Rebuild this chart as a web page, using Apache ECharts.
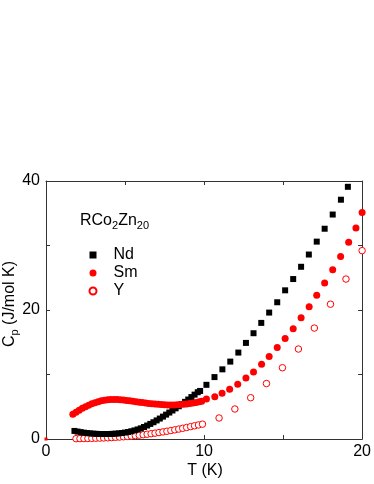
<!DOCTYPE html>
<html><head><meta charset="utf-8">
<script src="https://cdn.jsdelivr.net/npm/echarts@6/dist/echarts.min.js"></script>
<style>html,body{margin:0;padding:0;background:#fff}#c{width:374px;height:484px}</style>
</head><body><div id="c"></div>
<script>
// ---- data (T in K, Cp in J/mol K) ----
const ndT = [1.8,2.0,2.2,2.4,2.6,2.8,3.0,3.2,3.4,3.6,3.8,4.0,4.2,4.4,4.6,4.8,5.0,5.2,5.4,5.6,5.8,6.0,6.2,6.4,6.6,6.8,7.0,7.2,7.4,7.6,7.8,8.0,8.2,8.4,8.6,8.8,9.0,9.2,9.4,9.6,9.75,
  10.15,10.66,11.16,11.66,12.17,12.65,13.13,13.62,14.12,14.63,15.13,15.64,16.14,16.63,17.13,17.63,18.14,18.66,19.1];
const ndCp = [1.25,1.15,1.06,0.98,0.92,0.87,0.83,0.80,0.78,0.77,0.77,0.78,0.80,0.83,0.87,0.93,1.00,1.09,1.20,1.33,1.48,1.65,1.86,2.09,2.34,2.60,2.88,3.17,3.47,3.78,4.10,4.42,4.75,5.08,5.42,5.76,6.12,6.50,6.88,7.25,7.45,
  8.4,9.6,10.8,12.0,13.4,14.9,16.4,18.0,19.6,21.2,23.05,24.8,26.7,28.6,30.6,32.6,34.8,37.1,39.1];
const smT = [1.7,1.9,2.1,2.3,2.5,2.7,2.9,3.1,3.3,3.5,3.7,3.9,4.1,4.3,4.5,4.7,4.9,5.1,5.3,5.5,5.7,5.9,6.1,6.3,6.5,6.7,6.9,7.1,7.3,7.5,7.7,7.9,8.1,8.3,8.5,8.7,8.9,9.1,9.3,9.5,9.7,9.85,
  10.15,10.68,11.14,11.62,12.13,12.65,13.13,13.64,14.12,14.63,15.13,15.64,16.14,16.65,17.13,17.63,18.14,18.64,19.15,19.61,20.0];
const smCp = [3.85,4.15,4.45,4.75,5.0,5.25,5.45,5.62,5.78,5.92,6.02,6.08,6.12,6.13,6.12,6.09,6.04,5.98,5.92,5.85,5.78,5.71,5.64,5.58,5.52,5.46,5.41,5.37,5.33,5.30,5.28,5.27,5.28,5.30,5.33,5.38,5.44,5.51,5.59,5.67,5.76,5.85,
  6.2,6.56,7.08,7.7,8.5,9.46,10.4,11.6,12.8,14.2,15.6,17.1,18.8,20.5,22.3,24.2,26.25,28.3,30.5,32.7,35.1];
const yT = [1.9,2.15,2.4,2.65,2.9,3.15,3.4,3.65,3.9,4.15,4.4,4.65,4.9,5.15,5.4,5.65,5.9,6.15,6.4,6.65,6.9,7.15,7.4,7.65,7.9,8.15,8.4,8.65,8.9,9.15,9.4,9.65,9.9,
  10.95,11.95,12.95,13.95,14.96,15.97,16.98,18.0,18.98,20.0];
const yCp = [0.05,0.06,0.07,0.08,0.10,0.12,0.14,0.16,0.19,0.22,0.26,0.30,0.35,0.40,0.46,0.52,0.59,0.66,0.74,0.82,0.91,1.00,1.10,1.20,1.31,1.42,1.54,1.66,1.79,1.92,2.05,2.18,2.30,
  3.26,4.65,6.4,8.6,11.05,13.95,17.2,20.9,24.8,29.2];
const originT = [0];
const originCp = [0];
const xTicks = [0, 10, 20];
const yTicks = [0, 20, 40];

const zip = (a, b) => a.map((v, i) => [v, b[i]]);
const FONT = "'Liberation Sans', Arial, sans-serif";
const AX = '#333';
const FS = 16;

const chart = echarts.init(document.getElementById('c'), null, {renderer: 'canvas'});
const baseAxis = {
  axisLine: {show: true, onZero: false, lineStyle: {color: AX, width: 1}},
  axisTick: {show: true, inside: true, length: 4, lineStyle: {color: AX}},
  splitLine: {show: false}
};
chart.setOption({
  animation: false,
  backgroundColor: '#fff',
  textStyle: {fontFamily: FONT},
  grid: {left: 46, right: 10.5, top: 181, bottom: 45, containLabel: false},
  xAxis: [
    Object.assign({}, baseAxis, {type: 'value', position: 'bottom', min: 0, max: 20, interval: 5,
      axisLabel: {show: true, margin: 5, color: '#000', fontSize: FS, fontFamily: FONT,
        formatter: v => xTicks.includes(v) ? String(v) : ''}}),
    Object.assign({}, baseAxis, {type: 'value', position: 'top', min: 0, max: 20, interval: 5,
      axisLabel: {show: false}})
  ],
  yAxis: [
    Object.assign({}, baseAxis, {type: 'value', position: 'left', min: 0, max: 40, interval: 10,
      axisLabel: {show: true, margin: 6, color: '#000', fontSize: FS, fontFamily: FONT,
        formatter: v => yTicks.includes(v) ? String(v) : ''}}),
    Object.assign({}, baseAxis, {type: 'value', position: 'right', min: 0, max: 40, interval: 10,
      axisLabel: {show: false}})
  ],
  legend: {
    data: ['Nd', 'Sm', 'Y'], orient: 'vertical', left: 88.5, top: 247,
    itemWidth: 7, itemHeight: 7, itemGap: 2,
    textStyle: {fontSize: FS, fontFamily: FONT, color: '#000', padding: [0, 0, 0, 12]},
    padding: 0
  },
  graphic: [
    {type: 'text', left: 80, top: 213, silent: true,
     style: {text: '{b|RCo}{s|2}{b|Zn}{s|20}', fill: '#000',
       rich: {b: {fontSize: FS, fontFamily: FONT, lineHeight: 20, fill: '#000'},
              s: {fontSize: 11, fontFamily: FONT, lineHeight: 10, verticalAlign: 'bottom', fill: '#000'}}}},
    {type: 'text', x: 10, y: 304, rotation: Math.PI / 2, silent: true,
     style: {text: '{b|C}{s|p}{b| (J/mol K)}', align: 'center', verticalAlign: 'middle', fill: '#000',
       rich: {b: {fontSize: FS, fontFamily: FONT, lineHeight: 20, fill: '#000'},
              s: {fontSize: 11, fontFamily: FONT, lineHeight: 10, verticalAlign: 'bottom', fill: '#000'}}}},
    {type: 'text', x: 205, y: 471, silent: true,
     style: {text: 'T (K)', align: 'center', verticalAlign: 'middle', fontSize: FS, fontFamily: FONT, fill: '#000'}}
  ],
  series: [
    {name: 'Nd', type: 'scatter', data: zip(ndT, ndCp), symbol: 'rect', symbolSize: 6,
     itemStyle: {color: '#000', opacity: 1}, z: 3},
    {name: 'Sm', type: 'scatter', data: zip(smT, smCp), symbol: 'circle', symbolSize: 7,
     itemStyle: {color: '#ff0000', opacity: 1}, z: 4},
    {name: 'Y', type: 'scatter', data: zip(yT, yCp), symbol: 'circle', symbolSize: 6.5,
     itemStyle: {color: '#fff', borderColor: '#ff0000', borderWidth: 1, opacity: 1}, z: 2},
    {name: 'origin', type: 'scatter', data: zip(originT, originCp), symbol: 'rect', symbolSize: 3,
     itemStyle: {color: '#ff0000', opacity: 1}, z: 5, clip: false}
  ]
});
</script>
</body></html>
